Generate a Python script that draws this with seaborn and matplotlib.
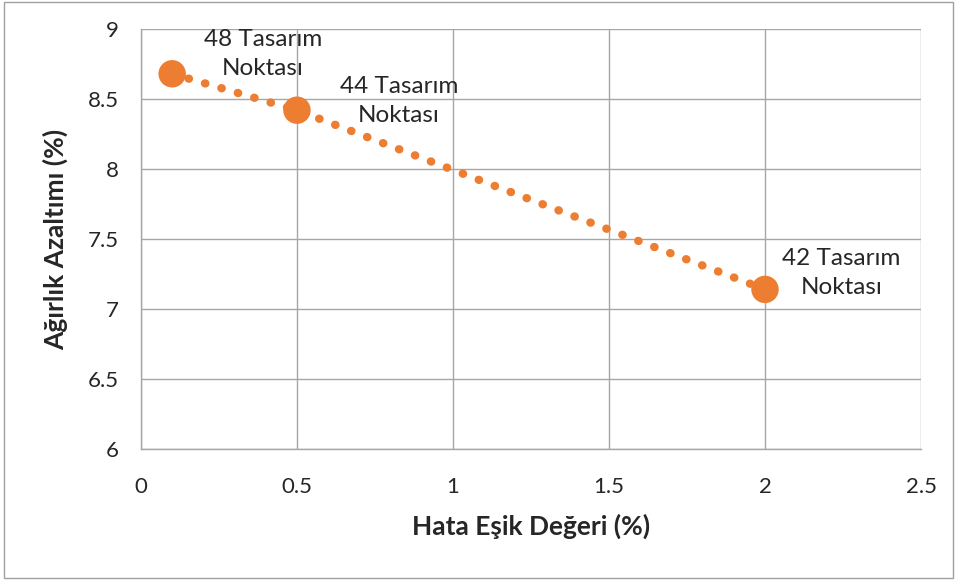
import matplotlib
matplotlib.use("Agg")
import matplotlib.pyplot as plt
import seaborn as sns
import pandas as pd
from matplotlib.patches import Rectangle

# Error threshold vs. weight reduction
hata_esik = [0.1, 0.5, 2.0]
agirlik_azaltimi = [8.68, 8.42, 7.14]
etiketler = ["48 Tasarım\nNoktası", "44 Tasarım\nNoktası", "42 Tasarım\nNoktası"]
x_ticks = [0, 0.5, 1, 1.5, 2, 2.5]
x_tick_labels = ["0", "0.5", "1", "1.5", "2", "2.5"]
y_ticks = [6, 6.5, 7, 7.5, 8, 8.5, 9]
y_tick_labels = ["6", "6.5", "7", "7.5", "8", "8.5", "9"]

df = pd.DataFrame({"x": hata_esik, "y": agirlik_azaltimi})

sns.set_theme(style="white")
plt.rcParams["font.family"] = ["Lato", "DejaVu Sans"]

orange = "#ED7D31"
grid_col = "#A6A6A6"
text_col = "#262626"

fig = plt.figure(figsize=(9.57, 5.81), dpi=100)
ax = fig.add_axes([0.1473, 0.2272, 0.8151, 0.7229])

sns.lineplot(data=df, x="x", y="y", ax=ax, color=orange, linewidth=6,
             linestyle=(0, (0.05, 2.0)), zorder=3, sort=False)
ax.lines[-1].set_dash_capstyle("round")
sns.scatterplot(data=df, x="x", y="y", ax=ax, color=orange, s=390,
                edgecolor="none", zorder=4)

offsets = [(0.29, 0.14), (0.327, 0.066), (0.244, 0.117)]
for xv, yv, lab, (dx, dy) in zip(hata_esik, agirlik_azaltimi, etiketler, offsets):
    ax.text(xv + dx, yv + dy, lab, ha="center", va="center", fontsize=17.5,
            color=text_col, linespacing=1.45, zorder=5)

ax.set_xlim(0, 2.5)
ax.set_ylim(6, 9)
ax.set_xticks(x_ticks)
ax.set_xticklabels(x_tick_labels)
ax.set_yticks(y_ticks)
ax.set_yticklabels(y_tick_labels)
ax.grid(True, color=grid_col, linewidth=1)
ax.set_axisbelow(True)
for side in ["top", "right"]:
    ax.spines[side].set_visible(False)
for side in ["left", "bottom"]:
    ax.spines[side].set_color(grid_col)
    ax.spines[side].set_linewidth(1)
ax.tick_params(axis="both", direction="out", length=6, width=1, color=grid_col,
               labelsize=16, labelcolor=text_col)
ax.tick_params(axis="x", pad=14)
ax.tick_params(axis="y", pad=10)

ax.set_xlabel("Hata Eşik Değeri (%)", fontsize=19, fontweight="bold",
              color=text_col, labelpad=12)
ax.set_ylabel("Ağırlık Azaltımı (%)", fontsize=19, fontweight="bold",
              color=text_col, labelpad=14)

# chart frame
fig.patches.append(Rectangle((0.004, 0.006), 0.992, 0.99, transform=fig.transFigure,
                             fill=False, edgecolor="#A0A0A0", linewidth=1))

fig.savefig("out.png", dpi=100)
